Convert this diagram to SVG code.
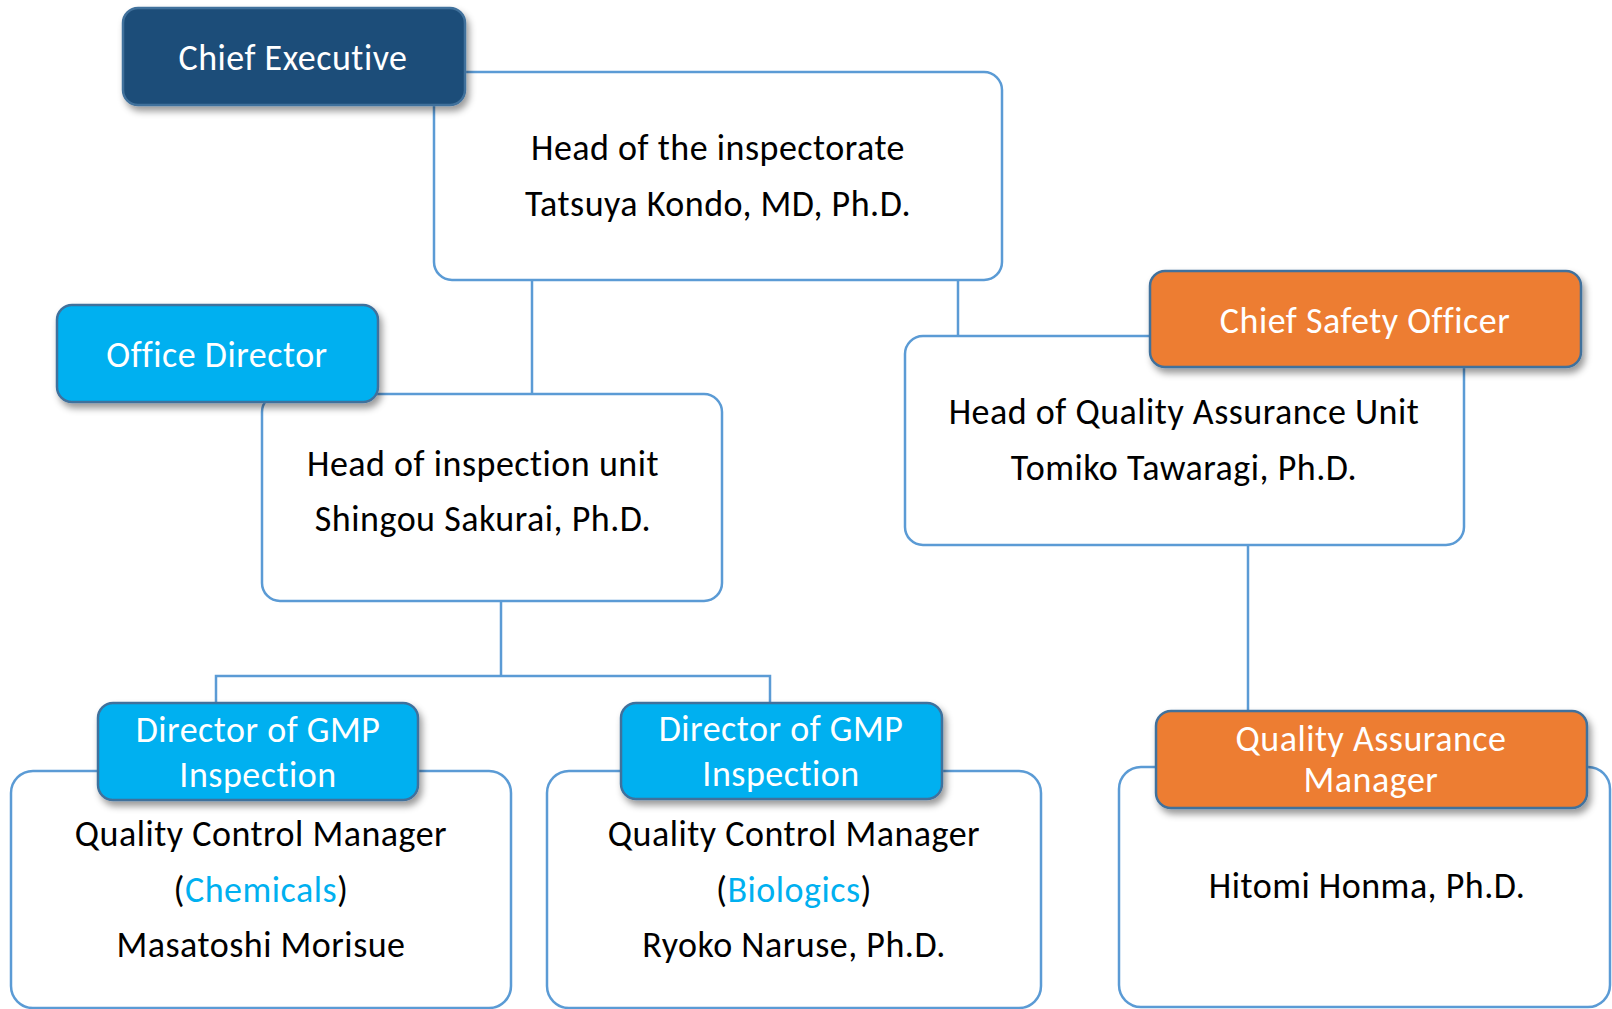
<svg xmlns="http://www.w3.org/2000/svg" width="1612" height="1009" viewBox="0 0 1612 1009">
<style>
.conn{fill:none;stroke:#5B9BD5;stroke-width:2.5}
.card{fill:#FFFFFF;stroke:#5B9BD5;stroke-width:2.5}
.tag{stroke:#41719C;stroke-width:2.5}
.navy{fill:#1F4E79}
.cyan{fill:#00B0F0}
.orange{fill:#ED7D31}
text{font-family:Carlito,Lato,"Open Sans",sans-serif;font-size:36px;letter-spacing:0.5px;text-anchor:middle}
.dark{fill:#000000}
.light{fill:#FFFFFF}
.hl{fill:#00B0F0}
</style>
<defs>
<filter id="sh" x="-10%" y="-20%" width="130%" height="160%">
<feDropShadow dx="3" dy="5" stdDeviation="3.5" flood-color="#000000" flood-opacity="0.4"/>
</filter>
</defs>
<rect width="1612" height="1009" fill="#FFFFFF"/>
<g id="connectors">
<line class="conn" x1="532" y1="280" x2="532" y2="394"/>
<line class="conn" x1="958" y1="280" x2="958" y2="336"/>
<line class="conn" x1="1248" y1="545" x2="1248" y2="711"/>
<polyline class="conn" points="501,601 501,676"/>
<polyline class="conn" points="216,703 216,676 770,676 770,703"/>
</g>
<g id="head-inspectorate">
<rect class="card" x="434" y="72" width="568" height="208" rx="18"/>
<text class="dark" x="718" y="160">Head of the inspectorate</text>
<text class="dark" x="718" y="216">Tatsuya Kondo, MD, Ph.D.</text>
</g>
<g id="chief-executive">
<rect class="tag navy" x="123" y="8" width="342" height="97" rx="15" filter="url(#sh)"/>
<text class="light" x="293" y="70">Chief Executive</text>
</g>
<g id="head-inspection-unit">
<rect class="card" x="262" y="394" width="460" height="207" rx="18"/>
<text class="dark" x="483" y="476">Head of inspection unit</text>
<text class="dark" x="483" y="531">Shingou Sakurai, Ph.D.</text>
</g>
<g id="office-director">
<rect class="tag cyan" x="57" y="305" width="321" height="97" rx="15" filter="url(#sh)"/>
<text class="light" x="217" y="367">Office Director</text>
</g>
<g id="head-qa-unit">
<rect class="card" x="905" y="336" width="559" height="209" rx="18"/>
<text class="dark" x="1184" y="424">Head of Quality Assurance Unit</text>
<text class="dark" x="1184" y="480">Tomiko Tawaragi, Ph.D.</text>
</g>
<g id="chief-safety-officer">
<rect class="tag orange" x="1150" y="271" width="431" height="96" rx="15" filter="url(#sh)"/>
<text class="light" x="1365" y="333">Chief Safety Officer</text>
</g>
<g id="qc-chemicals">
<rect class="card" x="11" y="771" width="500" height="237" rx="22"/>
<text class="dark" x="261" y="846">Quality Control Manager</text>
<text class="dark" x="261" y="902">(<tspan class="hl">Chemicals</tspan>)</text>
<text class="dark" x="261" y="957">Masatoshi Morisue</text>
</g>
<g id="director-gmp-1">
<rect class="tag cyan" x="98" y="703" width="320" height="97" rx="15" filter="url(#sh)"/>
<text class="light" x="258" y="742">Director of GMP</text>
<text class="light" x="258" y="787">Inspection</text>
</g>
<g id="qc-biologics">
<rect class="card" x="547" y="771" width="494" height="237" rx="22"/>
<text class="dark" x="794" y="846">Quality Control Manager</text>
<text class="dark" x="794" y="902">(<tspan class="hl">Biologics</tspan>)</text>
<text class="dark" x="794" y="957">Ryoko Naruse, Ph.D.</text>
</g>
<g id="director-gmp-2">
<rect class="tag cyan" x="621" y="703" width="321" height="96" rx="15" filter="url(#sh)"/>
<text class="light" x="781" y="741">Director of GMP</text>
<text class="light" x="781" y="786">Inspection</text>
</g>
<g id="qa-person">
<rect class="card" x="1119" y="767" width="491" height="240" rx="22"/>
<text class="dark" x="1367" y="898">Hitomi Honma, Ph.D.</text>
</g>
<g id="qa-manager">
<rect class="tag orange" x="1156" y="711" width="431" height="97" rx="15" filter="url(#sh)"/>
<text class="light" x="1371" y="751">Quality Assurance</text>
<text class="light" x="1371" y="792">Manager</text>
</g>
</svg>
